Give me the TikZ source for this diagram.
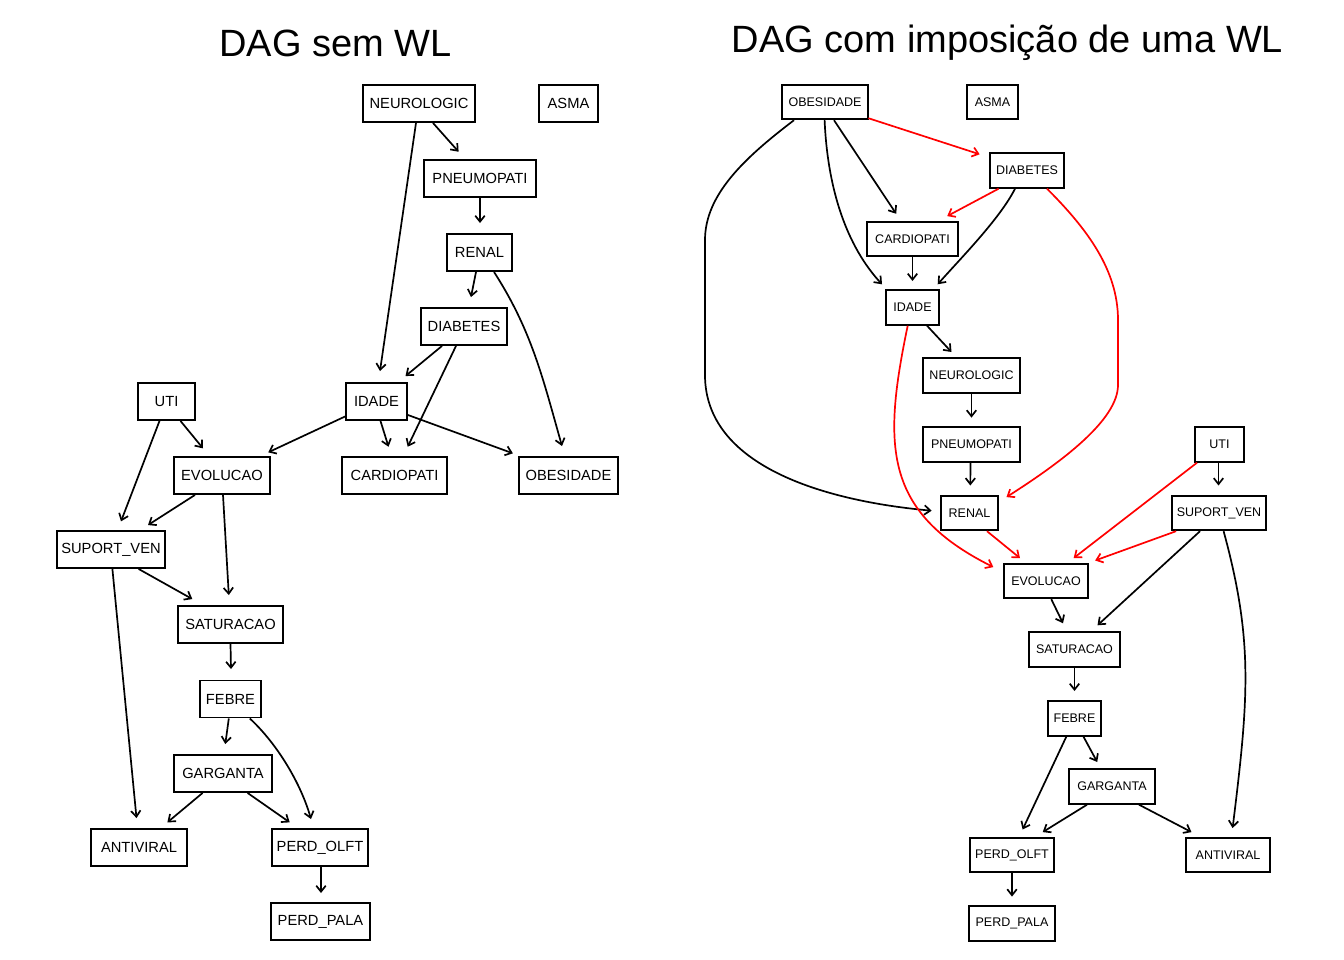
\documentclass[tikz,border=0pt]{standalone}
\usepackage{fontspec}
\setmainfont{Liberation Sans}
\usetikzlibrary{arrows.meta}
\begin{document}
\begin{tikzpicture}[x=1pt,y=-1pt,
  lbox/.style={draw, line width=1.9pt, inner sep=0pt, minimum height=37pt, font=\fontsize{14.7}{17}\selectfont},
  rbox/.style={draw, line width=1.9pt, inner sep=0pt, minimum height=34.5pt, font=\fontsize{12.5}{15}\selectfont},
  arr/.style={line width=1.7pt, -{Straight Barb[length=6pt,width=9.5pt]}},
  rarr/.style={arr, red},
  ttl/.style={anchor=base, font=\fontsize{38}{44}\selectfont}]
\useasboundingbox (0,0) rectangle (1344,960);
\fill[white] (0,0) rectangle (1344,960);

% titles
\node[ttl] (t1) at (335.5,57) {DAG sem WL};
\node[ttl] (t2) at (1007.5,53) {DAG com imposição de uma WL};

% ---------------- left graph ----------------
\node[lbox, minimum width=112pt] (neuro)  at (419,103.5) {NEUROLOGIC};
\node[lbox, minimum width=59pt]  (asma)   at (568.5,103.5) {ASMA};
\node[lbox, minimum width=112pt] (pneumo) at (480,178.5) {PNEUMOPATI};
\node[lbox, minimum width=65pt]  (renal)  at (479.5,252.5) {RENAL};
\node[lbox, minimum width=86pt]  (diab)   at (464,326.5) {DIABETES};
\node[lbox, minimum width=57pt]  (uti)    at (166.5,401.5) {UTI};
\node[lbox, minimum width=61pt]  (idade)  at (376.5,401.5) {IDADE};
\node[lbox, minimum width=96pt]  (evol)   at (222,475.5) {EVOLUCAO};
\node[lbox, minimum width=105pt] (cardio) at (394.5,475.5) {CARDIOPATI};
\node[lbox, minimum width=99pt]  (obes)   at (568.5,475.5) {OBESIDADE};
\node[lbox, minimum width=108pt] (suport) at (111,549.5) {SUPORT\_VEN};
\node[lbox, minimum width=105pt] (satur)  at (230.5,624.5) {SATURACAO};
\node[lbox, minimum width=61pt]  (febre)  at (230.5,699) {FEBRE};
\node[lbox, minimum width=98pt]  (garg)   at (223,773.5) {GARGANTA};
\node[lbox, minimum width=96pt]  (antiv)  at (139,847.5) {ANTIVIRAL};
\node[lbox, minimum width=96pt]  (olft)   at (320,847.5) {PERD\_OLFT};
\node[lbox, minimum width=99pt]  (pala)   at (320.5,921.5) {PERD\_PALA};

\draw[arr] ([xshift=14pt]neuro.south) -- ([xshift=-21.4pt,yshift=7.3pt]pneumo.north);
\draw[arr] ([xshift=-3pt]neuro.south) -- ([xshift=3.5pt,yshift=11pt]idade.north);
\draw[arr] (pneumo.south) -- ([xshift=0.5pt,yshift=10pt]renal.north);
\draw[arr] ([xshift=-3.5pt]renal.south) -- ([xshift=7pt,yshift=10pt]diab.north);
\draw[arr] ([xshift=14.5pt]renal.south) .. controls +(38,59) and +(-19,-67) .. ([xshift=-6.5pt,yshift=10pt]obes.north);
\draw[arr] ([xshift=-22pt]diab.south) -- ([xshift=29pt,yshift=6pt]idade.north);
\draw[arr] ([xshift=-8pt]diab.south) -- ([xshift=13.2pt,yshift=9.3pt]cardio.north);
\draw[arr] ([xshift=4pt]idade.south) -- ([xshift=-6pt,yshift=9.3pt]cardio.north);
\draw[arr] ([yshift=-13.5pt]idade.east) -- ([xshift=-55.6pt,yshift=2.7pt]obes.north);
\draw[arr] ([yshift=-15pt]idade.west) -- ([xshift=46.2pt,yshift=3.7pt]evol.north);
\draw[arr] ([xshift=14pt]uti.south) -- ([xshift=-19pt,yshift=7.7pt]evol.north);
\draw[arr] ([xshift=-7pt]uti.south) -- ([xshift=10pt,yshift=8.7pt]suport.north);
\draw[arr] ([xshift=-27pt]evol.south) -- ([xshift=37pt,yshift=5pt]suport.north);
\draw[arr] ([xshift=1pt]evol.south) -- ([xshift=-1.7pt,yshift=10pt]satur.north);
\draw[arr] ([xshift=27.6pt]suport.south) -- ([xshift=-38.2pt,yshift=6pt]satur.north);
\draw[arr] ([xshift=1.4pt]suport.south) -- ([xshift=-2.5pt,yshift=10pt]antiv.north);
\draw[arr] (satur.south) -- ([xshift=0.5pt,yshift=10.5pt]febre.north);
\draw[arr] ([xshift=-1.7pt]febre.south) -- ([xshift=2.3pt,yshift=10pt]garg.north);
\draw[arr] ([xshift=19.3pt]febre.south) .. controls +(28,26) and +(-10,-35) .. ([xshift=-9pt,yshift=9pt]olft.north);
\draw[arr] ([xshift=-20.4pt]garg.south) -- ([xshift=28.4pt,yshift=5.7pt]antiv.north);
\draw[arr] ([xshift=24.6pt]garg.south) -- ([xshift=-30.3pt,yshift=5.7pt]olft.north);
\draw[arr] ([xshift=1pt]olft.south) -- ([xshift=0.5pt,yshift=9pt]pala.north);

% ---------------- right graph ----------------
\node[rbox, minimum width=86pt] (robes)   at (825,102) {OBESIDADE};
\node[rbox, minimum width=51pt] (rasma)   at (992.5,102) {ASMA};
\node[rbox, minimum width=74pt] (rdiab)   at (1027,170.5) {DIABETES};
\node[rbox, minimum width=91pt] (rcardio) at (912.5,239) {CARDIOPATI};
\node[rbox, minimum width=53pt] (ridade)  at (912.5,307.5) {IDADE};
\node[rbox, minimum width=97pt] (rneuro)  at (971.5,375.5) {NEUROLOGIC};
\node[rbox, minimum width=97pt] (rpneumo) at (971.5,444.5) {PNEUMOPATI};
\node[rbox, minimum width=57pt] (rrenal)  at (969.5,513) {RENAL};
\node[rbox, minimum width=49pt] (ruti)    at (1219.5,444.5) {UTI};
\node[rbox, minimum width=94pt] (rsuport) at (1219,513) {SUPORT\_VEN};
\node[rbox, minimum width=84pt] (revol)   at (1046,581) {EVOLUCAO};
\node[rbox, minimum width=91pt] (rsatur)  at (1074.5,649.5) {SATURACAO};
\node[rbox, minimum width=53pt] (rfebre)  at (1074.5,718.5) {FEBRE};
\node[rbox, minimum width=86pt] (rgarg)   at (1112,786.5) {GARGANTA};
\node[rbox, minimum width=84pt] (rolft)   at (1012,855) {PERD\_OLFT};
\node[rbox, minimum width=84pt] (rantiv)  at (1228,855) {ANTIVIRAL};
\node[rbox, minimum width=86pt] (rpala)   at (1012,923.5) {PERD\_PALA};

% black edges
\draw[arr] ([xshift=9pt]robes.south) -- ([xshift=-16.3pt,yshift=7pt]rcardio.north);
\draw[arr] ([xshift=-0.4pt]robes.south) .. controls +(3,70) and +(-35,-38) .. ([xshift=-30.5pt,yshift=5pt]ridade.north);
\draw[arr] ([xshift=-31pt]robes.south) .. controls +(-50,38) and +(0,-45) .. (705,240) -- (705,375)
   .. controls +(0,90) and +(-110,-10) .. ([xshift=-8.4pt,yshift=2.3pt]rrenal.west);
\draw[arr] ([xshift=-12pt]rdiab.south) .. controls +(-15,30) and +(22,-25) .. ([xshift=25.2pt,yshift=5pt]ridade.north);
\draw[arr] (rcardio.south) -- ([yshift=8.3pt]ridade.north);
\draw[arr] ([xshift=14.5pt]ridade.south) -- ([xshift=-20pt,yshift=5.3pt]rneuro.north);
\draw[arr] (rneuro.south) -- ([yshift=8.7pt]rpneumo.north);
\draw[arr] ([xshift=-1pt]rpneumo.south) -- ([xshift=0.8pt,yshift=9.3pt]rrenal.north);
\draw[arr] ([xshift=-1pt]ruti.south) -- ([xshift=-0.5pt,yshift=9.3pt]rsuport.north);
\draw[arr] ([xshift=-19pt]rsuport.south) -- ([xshift=23pt,yshift=6pt]rsatur.north);
\draw[arr] ([xshift=4.6pt]rsuport.south) .. controls +(30,110) and +(16,-130) .. ([xshift=4.6pt,yshift=8.7pt]rantiv.north);
\draw[arr] ([xshift=5.3pt]revol.south) -- ([xshift=-11.5pt,yshift=8pt]rsatur.north);
\draw[arr] (rsatur.south) -- ([yshift=9.3pt]rfebre.north);
\draw[arr] ([xshift=9pt]rfebre.south) -- ([xshift=-14.8pt,yshift=6.3pt]rgarg.north);
\draw[arr] ([xshift=-8.2pt]rfebre.south) -- ([xshift=10.6pt,yshift=7.3pt]rolft.north);
\draw[arr] ([xshift=-25pt]rgarg.south) -- ([xshift=30.7pt,yshift=4.7pt]rolft.north);
\draw[arr] ([xshift=27pt]rgarg.south) -- ([xshift=-36.5pt,yshift=4.7pt]rantiv.north);
\draw[arr] (rolft.south) -- ([yshift=8.7pt]rpala.north);

% red edges
\draw[rarr] ([xshift=-0.6pt,yshift=2pt]robes.south east) -- ([xshift=-9.4pt,yshift=-2pt]rdiab.north west);
\draw[rarr] ([xshift=-28.4pt]rdiab.south) -- ([xshift=34.7pt,yshift=4.7pt]rcardio.north);
\draw[rarr] ([xshift=20pt]rdiab.south) .. controls +(40,40) and +(0,-50) .. (1118,320) -- (1118,385)
   .. controls +(0,35) and +(55,-35) .. ([xshift=7.5pt,yshift=-2.3pt]rrenal.north east);
\draw[rarr] ([xshift=-4.8pt]ridade.south) .. controls +(-25,120) and +(-110,-55) .. ([xshift=-9.7pt,yshift=-4.3pt]revol.north west);
\draw[rarr] ([xshift=17.5pt]rrenal.south) -- ([xshift=-26pt,yshift=4.7pt]revol.north);
\draw[rarr] ([xshift=-22.5pt]ruti.south) -- ([xshift=27.6pt,yshift=4.7pt]revol.north);
\draw[rarr] ([xshift=5pt]rsuport.south west) -- ([xshift=6.2pt,yshift=2.3pt]revol.north east);
\end{tikzpicture}
\end{document}
